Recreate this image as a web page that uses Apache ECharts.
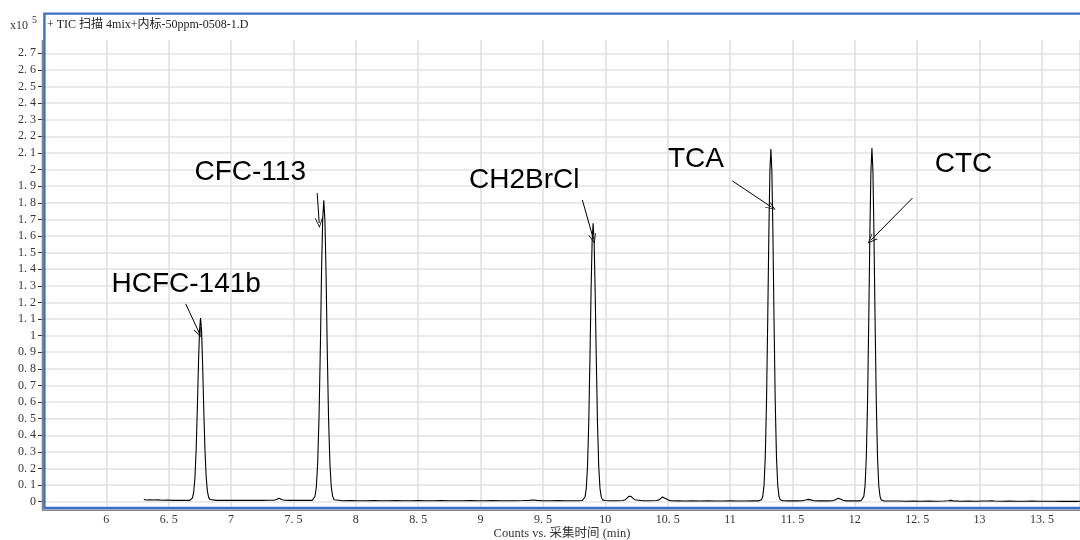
<!DOCTYPE html>
<html>
<head>
<meta charset="utf-8">
<title>TIC</title>
<script src="https://cdn.jsdelivr.net/npm/echarts@6/dist/echarts.min.js"></script>
<style>
  html, body { margin: 0; padding: 0; background: #fff; }
  #chart { width: 1080px; height: 540px; }
</style>
</head>
<body>
<div id="chart"></div>
<script>
// Total ion chromatogram, counts in units of 10^5, time in minutes.
const baseline1 = [[6.300,0.013],[6.320,0.010],[6.350,0.012],[6.380,0.010],[6.410,0.011],[6.450,0.009],[6.490,0.010],[6.530,0.008],[6.570,0.009],[6.610,0.008],[6.650,0.009],[6.670,0.008]];
const peakHCFC141b = [[6.680,0.012],[6.690,0.023],[6.700,0.057],[6.710,0.145],[6.720,0.318],[6.730,0.583],[6.739,0.851],[6.747,1.035],[6.755,1.105],[6.763,1.030],[6.771,0.840],[6.780,0.575],[6.790,0.320],[6.800,0.150],[6.810,0.062],[6.820,0.026],[6.830,0.013]];
const baseline2 = [[6.845,0.009],[6.880,0.008],[6.920,0.009],[6.960,0.008],[7.000,0.008],[7.050,0.009],[7.100,0.008],[7.150,0.009],[7.200,0.008],[7.250,0.008],[7.300,0.009],[7.340,0.009],[7.360,0.012],[7.375,0.018],[7.384,0.021],[7.395,0.018],[7.410,0.012],[7.430,0.009],[7.470,0.008],[7.510,0.009],[7.550,0.008],[7.590,0.008],[7.630,0.009],[7.650,0.008]];
const peakCFC113 = [[7.661,0.013],[7.672,0.031],[7.683,0.087],[7.694,0.232],[7.705,0.517],[7.716,0.954],[7.725,1.395],[7.734,1.698],[7.743,1.814],[7.752,1.690],[7.761,1.380],[7.770,0.940],[7.781,0.505],[7.792,0.228],[7.803,0.088],[7.814,0.032],[7.825,0.012]];
const baseline3 = [[7.840,0.007],[7.900,0.006],[7.960,0.007],[8.020,0.006],[8.080,0.006],[8.140,0.007],[8.200,0.006],[8.260,0.006],[8.320,0.007],[8.380,0.006],[8.440,0.006],[8.500,0.007],[8.560,0.006],[8.620,0.006],[8.680,0.007],[8.740,0.006],[8.800,0.006],[8.860,0.006],[8.920,0.007],[8.980,0.006],[9.040,0.006],[9.100,0.007],[9.160,0.006],[9.220,0.006],[9.280,0.006],[9.340,0.007],[9.390,0.008],[9.420,0.010],[9.450,0.008],[9.500,0.006],[9.560,0.006],[9.620,0.007],[9.680,0.006],[9.740,0.006],[9.790,0.006],[9.815,0.007]];
const peakCH2BrCl = [[9.827,0.011],[9.837,0.028],[9.847,0.079],[9.857,0.213],[9.867,0.477],[9.877,0.881],[9.886,1.288],[9.894,1.568],[9.902,1.675],[9.910,1.565],[9.918,1.280],[9.927,0.875],[9.937,0.472],[9.947,0.212],[9.957,0.080],[9.967,0.029],[9.977,0.011]];
const baseline4 = [[9.995,0.007],[10.040,0.006],[10.090,0.006],[10.140,0.007],[10.160,0.012],[10.175,0.024],[10.188,0.032],[10.196,0.034],[10.205,0.032],[10.220,0.022],[10.235,0.012],[10.250,0.007],[10.300,0.006],[10.360,0.006],[10.410,0.007],[10.430,0.011],[10.445,0.021],[10.458,0.028],[10.470,0.027],[10.485,0.018],[10.500,0.010],[10.520,0.006],[10.580,0.005],[10.640,0.004],[10.700,0.005],[10.760,0.004],[10.820,0.005],[10.880,0.004],[10.940,0.004],[11.000,0.005],[11.060,0.004],[11.120,0.004],[11.180,0.005],[11.230,0.005]];
const peakTCA = [[11.252,0.011],[11.262,0.033],[11.272,0.098],[11.282,0.268],[11.292,0.602],[11.302,1.114],[11.311,1.631],[11.319,1.987],[11.327,2.122],[11.335,1.984],[11.343,1.625],[11.352,1.105],[11.362,0.595],[11.372,0.265],[11.382,0.097],[11.392,0.033],[11.402,0.011]];
const baseline5 = [[11.420,0.006],[11.470,0.005],[11.530,0.005],[11.580,0.006],[11.605,0.010],[11.626,0.014],[11.645,0.011],[11.670,0.006],[11.720,0.005],[11.780,0.005],[11.820,0.006],[11.845,0.012],[11.867,0.020],[11.885,0.016],[11.905,0.009],[11.930,0.005],[11.980,0.005],[12.030,0.005],[12.050,0.006]];
const peakCTC = [[12.062,0.010],[12.072,0.032],[12.082,0.097],[12.092,0.267],[12.102,0.603],[12.112,1.117],[12.121,1.635],[12.129,1.992],[12.137,2.128],[12.145,1.988],[12.153,1.628],[12.162,1.108],[12.172,0.598],[12.182,0.264],[12.192,0.096],[12.202,0.032],[12.212,0.010]];
const baseline6 = [[12.230,0.005],[12.290,0.004],[12.350,0.004],[12.410,0.003],[12.470,0.004],[12.530,0.003],[12.590,0.004],[12.650,0.003],[12.710,0.004],[12.750,0.006],[12.768,0.008],[12.790,0.005],[12.850,0.003],[12.910,0.004],[12.970,0.003],[13.030,0.004],[13.080,0.005],[13.100,0.006],[13.120,0.004],[13.180,0.003],[13.240,0.004],[13.300,0.003],[13.360,0.003],[13.420,0.004],[13.480,0.003],[13.540,0.003],[13.600,0.003],[13.660,0.002],[13.720,0.003],[13.780,0.002],[13.830,0.003]];

const compoundNames = ['HCFC-141b', 'CFC-113', 'CH2BrCl', 'TCA', 'CTC'];
const yTickRange = [0, 2.7];
const xTickStep = 0.5;
const yTickStep = 0.1;
const titleText = '+ TIC 扫描 4mix+内标-50ppm-0508-1.D';
const xAxisTitle = 'Counts vs. 采集时间 (min)';

// Annotation placement in data space: label centre, arrow tail, arrow head.
const annotationLayout = [
  { label: [6.640, 1.308], from: [6.636, 1.190], to: [6.745, 1.015] },
  { label: [7.153, 1.984], from: [7.690, 1.857], to: [7.706, 1.677] },
  { label: [9.350, 1.936], from: [9.816, 1.815], to: [9.904, 1.581] },
  { label: [10.726, 2.061], from: [11.018, 1.930], to: [11.331, 1.773] },
  { label: [12.871, 2.032], from: [12.462, 1.827], to: [12.131, 1.575] }
];

const trace = [].concat(baseline1, peakHCFC141b, baseline2, peakCFC113, baseline3,
  peakCH2BrCl, baseline4, peakTCA, baseline5, peakCTC, baseline6);

const X_MIN = 5.5, X_MAX = 13.805;
const serifFont = '"Liberation Serif", "Noto Sans CJK SC", serif';
const openArrow = 'path://M0,10 L5,0 L10,10 L9,10 L5,2 L1,10 Z';
const fmtTick = v => String(+v.toFixed(2)).replace('.', '. ');

const chart = echarts.init(document.getElementById('chart'), null, { renderer: 'canvas' });

chart.setOption({
  animation: false,
  backgroundColor: '#ffffff',
  grid: [
    { left: 44, right: 0, top: 40, bottom: 32, outerBoundsMode: 'none', containLabel: false },
    { left: 44, right: 0, top: 53.3, bottom: 38.3, outerBoundsMode: 'none', containLabel: false }
  ],
  xAxis: [
    {
      type: 'value', gridIndex: 0, min: X_MIN, max: X_MAX, interval: xTickStep,
      axisLine: { show: false, onZero: false }, axisTick: { show: false },
      axisLabel: {
        show: true, margin: 6, showMinLabel: false, showMaxLabel: false,
        fontFamily: serifFont, fontSize: 12, color: '#333', formatter: fmtTick
      },
      splitLine: { show: true, lineStyle: { color: '#dedede', width: 1.5 } },
      name: xAxisTitle, nameLocation: 'middle', nameGap: 19, nameMoveOverlap: false,
      nameTextStyle: { fontFamily: serifFont, fontSize: 12.5, color: '#333', verticalAlign: 'top' }
    },
    {
      type: 'value', gridIndex: 1, min: X_MIN, max: X_MAX, show: false,
      axisLine: { onZero: false }
    }
  ],
  yAxis: [
    { type: 'value', gridIndex: 0, min: -0.038, max: 2.778, show: false },
    {
      type: 'value', gridIndex: 1, min: yTickRange[0], max: yTickRange[1], interval: yTickStep,
      axisLine: { show: true, onZero: false, lineStyle: { color: '#888', width: 1 } },
      axisTick: { show: true, length: 6, lineStyle: { color: '#333', width: 1 } },
      axisLabel: { margin: 8, fontFamily: serifFont, fontSize: 12, color: '#333', formatter: fmtTick },
      splitLine: { show: true, lineStyle: { color: '#e3e3e3', width: 1.5 } }
    }
  ],
  series: [{
    type: 'line',
    xAxisIndex: 0, yAxisIndex: 0,
    data: trace,
    showSymbol: false,
    symbol: 'none',
    lineStyle: { color: '#000', width: 1.1 },
    z: 5,
    markLine: {
      silent: true,
      symbol: ['none', openArrow],
      symbolSize: [8, 10],
      lineStyle: { color: '#000', width: 1, type: 'solid' },
      label: { show: false },
      emphasis: { disabled: true },
      data: annotationLayout.map(a => [{ coord: a.from }, { coord: a.to }])
    },
    markPoint: {
      silent: true,
      symbol: 'circle',
      symbolSize: 1,
      itemStyle: { color: 'rgba(0,0,0,0)' },
      label: {
        show: true, position: 'inside', formatter: p => p.name,
        fontFamily: '"Liberation Sans", Arial, sans-serif', fontSize: 28, color: '#000'
      },
      data: annotationLayout.map((a, i) => ({ name: compoundNames[i], coord: a.label }))
    }
  }],
  graphic: [
    // grey shadow along the left and bottom of the frame
    { type: 'line', z: 20, shape: { x1: 42.5, y1: 40, x2: 42.5, y2: 510.5 }, style: { stroke: '#858585', lineWidth: 1.6 } },
    { type: 'line', z: 20, shape: { x1: 42, y1: 510.2, x2: 1080, y2: 510.2 }, style: { stroke: '#858585', lineWidth: 1.6 } },
    // blue frame
    { type: 'rect', z: 21, shape: { x: 44.4, y: 13.6, width: 1100, height: 494.4 }, style: { fill: 'none', stroke: '#3b6ec8', lineWidth: 2.4 } },
    { type: 'text', z: 22, left: 47, top: 19, style: { text: titleText, font: '12px ' + serifFont, fill: '#222' } },
    { type: 'text', z: 22, left: 10, top: 20, style: { text: 'x10', font: '12px ' + serifFont, fill: '#333' } },
    { type: 'text', z: 22, left: 32, top: 15, style: { text: '5', font: '10px ' + serifFont, fill: '#333' } }
  ]
});
</script>
</body>
</html>
